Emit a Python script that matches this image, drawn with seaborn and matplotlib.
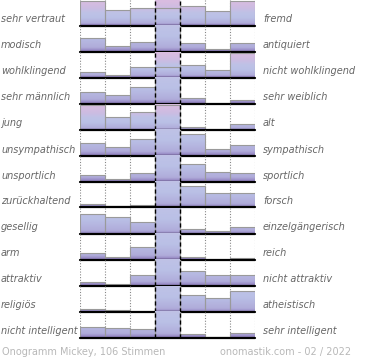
import numpy as np
import seaborn as sns
import matplotlib.pyplot as plt
from matplotlib.colors import LinearSegmentedColormap

# share of votes per scale step (1 = full row height; middle step is clipped when larger)
left_labels = ["sehr vertraut", "modisch", "wohlklingend", "sehr männlich", "jung",
               "unsympathisch", "unsportlich", "zurückhaltend", "gesellig", "arm",
               "attraktiv", "religiös", "nicht intelligent"]
right_labels = ["fremd", "antiquiert", "nicht wohlklingend", "sehr weiblich", "alt",
                "sympathisch", "sportlich", "forsch", "einzelgängerisch", "reich",
                "nicht attraktiv", "atheistisch", "sehr intelligent"]

vertraut = [0.98, 0.64, 0.71, 0.71, 0.79, 0.60, 0.98]
modisch = [0.55, 0.22, 0.38, 2.0, 0.34, 0.11, 0.36]
wohlklingend = [0.23, 0.09, 0.43, 0.43, 0.51, 0.31, 1.0]
maennlich = [0.47, 0.34, 0.68, 2.0, 0.23, 0.0, 0.15]
jung = [1.0, 0.50, 0.70, 1.0, 0.12, 0.0, 0.23]
unsympathisch = [0.49, 0.33, 0.69, 2.0, 0.88, 0.28, 0.41]
unsportlich = [0.25, 0.12, 0.33, 2.0, 0.73, 0.37, 0.33]
zurueckhaltend = [0.16, 0.05, 0.12, 2.0, 0.88, 0.60, 0.60]
gesellig = [0.80, 0.69, 0.48, 2.0, 0.20, 0.12, 0.28]
arm = [0.28, 0.12, 0.49, 2.0, 0.09, 0.0, 0.05]
attraktiv = [0.16, 0.08, 0.44, 2.0, 0.60, 0.44, 0.44]
religioes = [0.11, 0.08, 0.0, 2.0, 0.67, 0.55, 0.83]
intelligent = [0.44, 0.40, 0.36, 2.0, 0.16, 0.04, 0.20]

rows = [vertraut, modisch, wohlklingend, maennlich, jung, unsympathisch, unsportlich,
        zurueckhaltend, gesellig, arm, attraktiv, religioes, intelligent]

sns.set_theme(style="white")
plt.rcParams['font.family'] = ['DejaVu Sans']

W, H = 370, 360
fig = plt.figure(figsize=(W / 100, H / 100), dpi=100)

grad = LinearSegmentedColormap.from_list("bar", [
    (0.0, "#9282c0"), (0.07, "#b0acda"), (0.3, "#bac0e6"),
    (0.5, "#bec2e6"), (0.68, "#ccbce2"), (1.0, "#dabce0")])

x0, x1 = 80, 255
ytop = 1.06
for i, vals in enumerate(rows):
    base = 25 + 26 * i
    ax = fig.add_axes([x0 / W, 1 - (base + 0.5) / H, (x1 - x0) / W, 26 / H])
    ax.axvspan(2.5, 3.5, color="#ececec", zorder=0)
    sns.barplot(x=list(range(7)), y=vals, ax=ax, width=1, color="white",
                edgecolor="#9a9a9a", linewidth=0.8, zorder=2)
    rowmax = max(vals)
    ygrid = np.linspace(0, ytop, 120)
    img = np.clip(ygrid / rowmax, 0, 1)[:, None]
    for p in ax.patches:
        p.set_facecolor("none")
        bx = p.get_x()
        # gradient fill, clipped to the bar shape
        im = ax.imshow(img, cmap=grad, vmin=0, vmax=1, origin="lower", aspect="auto",
                       extent=(bx, bx + 1, 0, ytop), zorder=1.5)
        im.set_clip_path(p)
    ax.set_xlim(-0.5, 6.5)
    ax.set_ylim(0, ytop)
    for xv in [-0.5, 0.5, 1.5, 4.5, 5.5, 6.5]:
        ax.axvline(xv, color="#888888", lw=0.8, ls=(0, (1, 1.5)), zorder=1)
    for xv in [2.5, 3.5]:
        ax.axvline(xv, color="black", lw=1.0, ls=(0, (3, 2)), zorder=3)
    ax.axhline(0, color="black", lw=1.6, zorder=4, clip_on=False)
    ax.set_axis_off()

    ty = 1 - (base - 5.5) / H
    fig.text(1 / W, ty, left_labels[i], fontsize=7, style="italic", color="#666666",
             va="center", ha="left")
    fig.text(263 / W, ty, right_labels[i], fontsize=7, style="italic", color="#666666",
             va="center", ha="left")

fig.text(2 / W, 1 - 352 / H, "Onogramm Mickey, 106 Stimmen", fontsize=7,
         color="#b8b8b8", va="center", ha="left")
fig.text(220 / W, 1 - 352 / H, "onomastik.com - 02 / 2022", fontsize=7,
         color="#b8b8b8", va="center", ha="left")

fig.savefig("out.png", dpi=100)
